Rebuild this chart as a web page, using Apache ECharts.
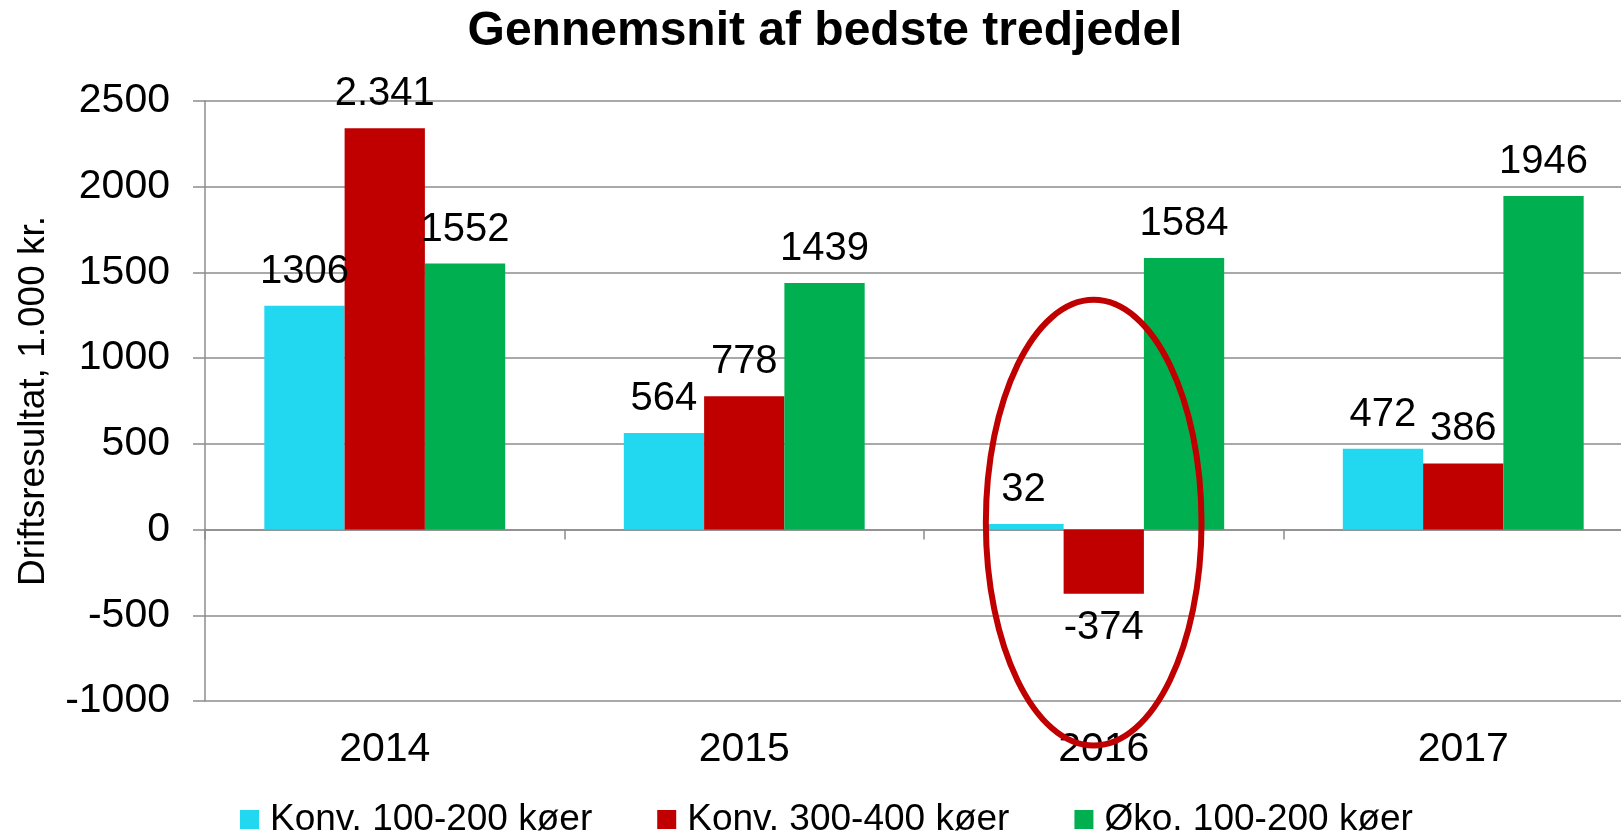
<!DOCTYPE html>
<html>
<head>
<meta charset="utf-8">
<script src="https://cdn.jsdelivr.net/npm/echarts@6.0.0/dist/echarts.min.js"></script>
<style>
html,body{margin:0;padding:0;background:#fff;overflow:hidden;}
/* the plot runs a little past the right edge of the picture, so the canvas is wider than the window */
#chart{width:1650px;height:836px;}
</style>
</head>
<body>
<div id="chart"></div>
<script>
// data
var years = ['2014', '2015', '2016', '2017'];
var konv100 = [1306, 564, 32, 472];
var konv300 = [2341, 778, -374, 386];
var oko100 = [1552, 1439, 1584, 1946];
var konv300Text = ['2.341', '778', '-374', '386'];   // label written with a dot in the original
var seriesNames = ['Konv. 100-200 køer', 'Konv. 300-400 køer', 'Øko. 100-200 køer'];
var yMin = -1000, yMax = 2500, yStep = 500;

var font = 'Liberation Sans, Arial, sans-serif';
var gridColor = '#8c8c8c';

function barSeries(name, color, values, texts) {
    return {
        name: name,
        type: 'bar',
        xAxisIndex: 0,
        barGap: '0%',
        barCategoryGap: '33%',
        itemStyle: { color: color },
        label: {
            show: true,
            fontSize: 40,
            fontFamily: font,
            color: '#000',
            distance: 14
        },
        data: values.map(function (v, i) {
            return {
                value: v,
                label: {
                    position: v < 0 ? 'bottom' : 'top',
                    formatter: texts ? texts[i] : String(v)
                }
            };
        })
    };
}

var chart = echarts.init(document.getElementById('chart'));

var option = {
    animation: false,
    backgroundColor: '#fff',
    textStyle: { fontFamily: font },
    title: {
        text: 'Gennemsnit af bedste tredjedel',
        left: 825,
        textAlign: 'center',
        top: 8,
        padding: 0,
        textStyle: { fontSize: 48, fontWeight: 'bold', color: '#000', fontFamily: font }
    },
    legend: {
        data: seriesNames,
        left: 240,
        top: 801,
        icon: 'rect',
        itemWidth: 19,
        itemHeight: 19,
        itemGap: 65,
        padding: 0,
        textStyle: { fontSize: 37, color: '#000', fontFamily: font, padding: [0, 0, 0, 6] }
    },
    grid: { left: 205, right: 7, top: 101, bottom: 135 },
    xAxis: [
        {
            // axis line on the zero value with ticks between years
            type: 'category',
            data: years,
            position: 'top',
            axisLine: { show: true, onZero: true, lineStyle: { color: gridColor, width: 1.5 } },
            axisTick: { show: true, inside: true, length: 10, lineStyle: { color: gridColor, width: 1.5 } },
            axisLabel: { show: false },
            splitLine: { show: false }
        },
        {
            // year labels under the plot
            type: 'category',
            data: years,
            position: 'bottom',
            axisLine: { show: false, onZero: false },
            axisTick: { show: false },
            axisLabel: { fontSize: 41, color: '#000', fontFamily: font, margin: 28 },
            splitLine: { show: false }
        }
    ],
    yAxis: {
        type: 'value',
        min: yMin,
        max: yMax,
        interval: yStep,
        name: 'Driftsresultat, 1.000 kr.',
        nameLocation: 'middle',
        nameGap: 153,
        nameTextStyle: { fontSize: 37, color: '#000', fontFamily: font },
        axisLine: { show: true, lineStyle: { color: gridColor, width: 1.5 } },
        axisTick: { show: true, length: 12, lineStyle: { color: gridColor, width: 1.5 } },
        axisLabel: {
            fontSize: 41, color: '#000', fontFamily: font, margin: 35,
            formatter: function (v) { return String(v); }
        },
        splitLine: { show: true, lineStyle: { color: gridColor, width: 1.5 } }
    },
    series: [
        barSeries(seriesNames[0], '#22d8f0', konv100),
        barSeries(seriesNames[1], '#c00000', konv300, konv300Text),
        barSeries(seriesNames[2], '#00b050', oko100)
    ]
};

chart.setOption(option);

// red ellipse drawn round the 2016 group, placed through the axes
var finder = { xAxisIndex: 0, yAxisIndex: 0 };
var c16 = chart.convertToPixel(finder, ['2016', 40]);
var c17 = chart.convertToPixel(finder, ['2017', 40]);
var top16 = chart.convertToPixel(finder, ['2016', 1340]);
var bot16 = chart.convertToPixel(finder, ['2016', -1260]);
var band = c17[0] - c16[0];

chart.setOption({
    graphic: [{
        type: 'ellipse',
        z: 100,
        shape: {
            cx: c16[0] - band * 0.028,
            cy: (top16[1] + bot16[1]) / 2,
            rx: band * 0.3,
            ry: (bot16[1] - top16[1]) / 2
        },
        style: { fill: 'none', stroke: '#c00000', lineWidth: 6 }
    }]
});
</script>
</body>
</html>
